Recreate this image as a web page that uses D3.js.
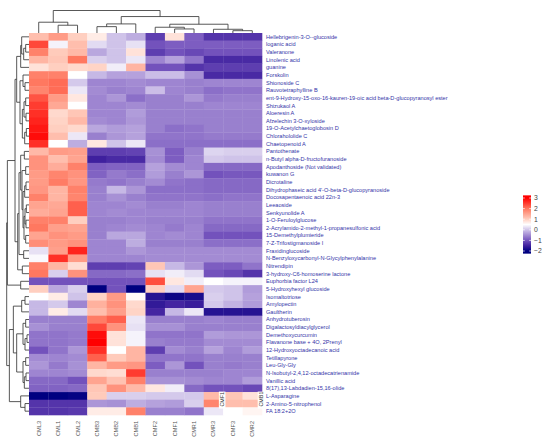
<!DOCTYPE html>
<html><head><meta charset="utf-8">
<script src="https://cdn.jsdelivr.net/npm/d3@7"></script>
<style>
html,body{margin:0;padding:0;background:#fff;}
svg{display:block;}
text{font-family:"Liberation Sans",Arial,sans-serif;}
</style></head>
<body><svg id="chart" width="550" height="444"></svg>
<script>
const columns = ["CML3","CML1","CML2","CMB3","CMB2","CMB1","CMF2","CMF1","CMR1","CMR3","CMF3","CMR2"];
const rowNames = [
"Hellebrigenin-3-O--glucoside","loganic acid","Valeranone","Linolenic acid","guanine","Forskolin","Shionoside C",
"Rauvotetraphylline B","ent-9-Hydroxy-15-oxo-16-kauren-19-oic acid beta-D-glucopyranosyl ester","Shizukaol A",
"Aloeresin A","Afzelechin 3-O-xyloside","19-O-Acetylchaetoglobosin D","Chlorahololide C","Chaetopenoid A",
"Pantothenate","n-Butyl alpha-D-fructofuranoside","Apodanthoside (Not validated)","kuwanon G","Dicrotaline",
"Dihydrophaseic acid 4'-O-beta-D-glucopyranoside","Docosapentaenoic acid 22n-3","Leeaoside","Senkyunolide A",
"1-O-Feruloylglucose","2-Acrylamido-2-methyl-1-propanesulfonic acid","15-Demethylplumieride","7-Z-Trifostigmanoside I",
"Fraxidinglucoside","N-Benzyloxycarbonyl-N-Glycylphenylalanine","Nitrendipin","3-hydroxy-C6-homoserine lactone",
"Euphorbia factor L24","5-Hydroxyhexyl glucoside","Isomaltotriose","Amylopectin","Gaultherin","Anhydrotuberosin",
"Digalactosyldiacylglycerol","Demethoxycurcumin","Flavanone base + 4O, 2Prenyl","12-Hydroxyoctadecanoic acid",
"Tetillapyrone","Leu-Gly-Gly","N-Isobutyl-2,4,12-octadecatrienamide","Vanillic acid","8(17),13-Labdadien-15,16-olide",
"L-Asparagine","2-Amino-5-nitrophenol","FA 18:2+2O"];
const values = [
[1.2,1.6,1.0,0.7,0.0,-0.2,-1.2,0.8,-0.9,-1.3,-1.3,-1.3],
[2.4,0.4,1.2,0.2,0.0,0.25,-1.0,-0.9,-0.9,-0.9,-0.9,-0.9],
[1.9,1.05,1.25,-0.25,0.0,0.8,-1.2,-1.0,-1.1,-1.0,-1.0,-1.0],
[1.3,1.1,2.0,0.1,0.0,0.3,-0.55,-0.3,-0.7,-1.4,-1.4,-1.4],
[0.8,1.0,0.9,0.95,0.35,1.3,-1.0,-1.0,-1.3,-1.2,-1.2,-1.2],
[1.9,1.9,0.5,-0.1,-0.3,-0.3,-0.05,-0.05,-0.45,-1.4,-1.4,-1.4],
[2.0,2.1,0.05,-0.55,-0.55,-0.5,-0.55,-0.55,-0.6,-0.55,-0.55,-0.55],
[1.85,2.1,0.3,-0.5,-0.6,-0.55,-0.05,-0.55,-0.6,-0.75,-0.7,-0.7],
[2.3,1.6,0.75,-0.55,-0.4,-0.75,-0.6,-0.6,-0.4,-0.65,-0.6,-0.6],
[2.5,1.45,0.5,-0.55,-0.55,-0.5,-0.6,-0.6,-0.6,-0.55,-0.55,-0.55],
[2.6,0.9,1.1,-0.55,-0.55,-0.35,-0.6,-0.6,-0.6,-0.6,-0.6,-0.6],
[2.7,0.95,1.25,-0.5,-0.55,-0.4,-0.6,-0.6,-0.6,-0.6,-0.6,-0.6],
[2.8,1.0,0.9,-0.25,-0.35,-0.3,-0.6,-0.75,-0.7,-0.6,-0.6,-0.6],
[2.9,1.2,0.3,-0.6,-0.4,-0.3,-0.7,-0.7,-0.7,-0.65,-0.65,-0.65],
[2.6,0.5,-0.2,0.75,0.0,0.3,-0.75,-0.75,-0.75,-0.75,-0.75,-0.75],
[1.25,1.6,1.55,-1.2,-1.2,-1.15,-0.45,-0.9,-0.6,0.15,0.1,0.1],
[1.7,1.2,1.5,-1.5,-1.4,-1.4,-0.5,-0.9,-0.55,0.05,0.0,0.0],
[1.7,1.4,1.9,-0.9,-0.85,-0.85,-0.3,-0.5,-0.55,-0.8,-0.8,-0.8],
[1.6,1.85,1.7,-0.85,-0.65,-0.75,-0.35,-0.6,-0.4,-1.0,-0.95,-0.95],
[1.6,1.95,1.65,-0.65,-0.7,-0.6,-0.5,-0.7,-0.75,-0.8,-0.8,-0.8],
[1.65,1.3,1.9,-0.6,-0.1,-0.4,-0.75,-0.75,-0.75,-0.8,-0.8,-0.8],
[1.9,1.3,1.85,-0.6,-0.45,-0.6,-0.7,-0.7,-0.7,-0.75,-0.7,-0.7],
[1.5,1.45,2.2,-0.55,-0.55,-0.5,-0.6,-0.6,-0.55,-0.6,-0.6,-0.6],
[1.4,1.5,2.2,-0.55,-0.5,-0.55,-0.55,-0.55,-0.55,-0.6,-0.6,-0.6],
[1.9,1.9,1.0,-0.6,-0.6,-0.55,-0.6,-0.6,-0.6,-0.7,-0.7,-0.7],
[2.0,1.55,1.5,-0.6,-0.55,-0.5,-0.55,-0.65,-0.55,-0.8,-0.8,-0.8],
[1.5,1.7,1.6,-0.6,-0.25,-0.25,-0.55,-0.5,-0.55,-1.0,-1.0,-1.0],
[1.75,1.6,1.7,-0.55,-0.55,-0.2,-0.6,-0.6,-0.6,-0.75,-0.75,-0.75],
[0.25,1.55,2.7,-0.55,-0.55,-0.4,-0.5,-0.5,-0.5,-0.5,-0.5,-0.5],
[0.45,2.6,1.6,-0.55,-0.55,-0.55,-0.5,-0.5,-0.5,-0.5,-0.5,-0.5],
[1.9,1.3,0.85,-1.2,-1.2,-1.15,1.1,-0.1,-0.4,-0.9,-0.9,-0.7],
[2.0,0.1,1.7,-0.8,-0.8,-0.75,0.25,0.35,0.2,-1.0,-1.1,-1.3],
[-1.0,-1.0,-1.0,-1.0,-1.0,-1.0,2.35,0.75,0.35,0.5,0.4,0.4],
[1.0,-0.25,0.1,-2.0,-1.0,-2.0,1.0,0.2,1.5,0.05,0.0,-0.35],
[0.5,0.7,0.0,0.95,1.6,0.55,-1.7,-1.9,-1.8,0.1,0.0,-0.3],
[-0.1,0.05,-0.55,1.35,1.7,0.9,-1.6,-1.45,-1.55,0.05,-0.15,-0.35],
[-0.1,0.7,0.2,1.2,1.55,0.95,-1.45,-0.1,0.3,-1.7,-1.7,-1.7],
[-0.6,-0.6,-0.6,1.95,2.2,0.3,-0.6,-0.6,-0.6,-0.55,-0.6,-0.6],
[-0.45,-0.6,-0.6,2.4,1.7,0.25,-0.45,-0.45,-0.6,-0.6,-0.6,-0.6],
[-0.7,-0.7,-0.65,2.9,0.8,0.4,-0.7,-0.7,-0.7,-0.35,-0.4,-0.4],
[-0.7,-0.7,-0.65,3.0,0.8,0.4,-0.6,-0.65,-0.65,-0.5,-0.5,-0.5],
[-1.0,-0.7,-0.4,2.6,0.5,1.3,-1.2,-0.5,-0.6,-0.3,-0.55,-0.35],
[-0.5,-0.55,-0.5,2.2,1.05,1.3,-0.7,-0.7,-0.7,-0.6,-0.6,-0.6],
[-0.4,-0.65,-0.45,1.3,1.6,1.65,-0.9,-0.4,-1.0,-0.6,-0.65,-0.6],
[-0.55,-0.55,-0.5,0.9,0.85,2.5,-0.6,-0.6,-0.6,-0.6,-0.55,-0.55],
[-0.8,-0.8,-1.0,1.5,1.15,1.9,-0.45,-0.45,-0.5,-0.55,-0.55,-0.35],
[-0.85,-0.85,-0.8,1.1,1.7,1.25,0.75,0.35,-0.8,-1.0,-1.0,-1.1],
[-2.0,-2.0,-1.95,1.05,0.1,0.1,0.05,0.05,0.05,1.25,1.1,0.8],
[-1.3,-1.3,-1.3,-0.4,-0.45,-0.2,-0.3,-0.35,0.1,1.85,1.2,1.2],
[-1.3,-1.3,-1.25,0.7,0.7,1.9,-0.6,-0.6,-0.7,0.3,0.5,0.6]
];
// dendrograms: [mergeHeight, left, right]; leaves are indices
const colTree = [22.3,[10.7,0,[7.7,1,2]],[16.3,[9,[6.3,3,4],5],[8.7,[5.7,6,[4,7,8]],[3.7,9,[2.3,10,11]]]]];
const rowTree = [67,
  [65,
    [42,
      [37,
        [25,[22,0,[16,[10,1,2],3]],4],
        [27,[18,5,[12,6,7]],[20,[15,[10,8,9],[9,10,11]],[13,[8,12,13],14]]]
      ],
      [34,
        [30,
          [25,[14,15,16],[21,[10,17,18],[18,[13,[9,19,20],21],[15,[12,[8,22,23],[9,24,25]],[10,26,27]]]]],
          [16,28,29]
        ],
        [20,30,31]
      ]
    ],
    [25,32,33]
  ],
  [59,
    [47,
      [22,[12,34,35],36],
      [37,[18,[10,37,38],[12,[6,39,40],41]],[18,[10,42,43],[14,[9,44,45],46]]]
    ],
    [25,47,[12,48,49]]
  ]
];
const legendTicks = [3,2,1,0,-1,-2];
const extraLabels = [{text:"CMF1", col:"CMR3"},{text:"CMB1", col:"CMR2"}];

const svg = d3.select("#chart");
const X0 = 29, X1 = 262, Y0 = 33, Y1 = 415;
const x = d3.scaleBand().domain(d3.range(columns.length)).range([X0, X1]);
const y = d3.scaleBand().domain(d3.range(rowNames.length)).range([Y0, Y1]);
const color = d3.scaleLinear()
  .domain([-2,-1.5,-1,-0.5,0,0.5,1,2,3])
  .range(["#000080","#3f209e","#7352bc","#a38bd3","#cfc3e9","#ffffff","#ffcfc0","#ff7860","#ff0000"])
  .clamp(true);

// heatmap cells
const cells = [];
values.forEach((row,i)=>row.forEach((v,j)=>cells.push({i,j,v})));
svg.append("g").selectAll("rect").data(cells).join("rect")
  .attr("x",d=>x(d.j)).attr("y",d=>y(d.i))
  .attr("width",x.bandwidth()+0.3).attr("height",y.bandwidth()+0.3)
  .attr("fill",d=>color(d.v));

// dendrogram helper
function dendro(tree, posOf, hScale, horizontal){
  const segs=[];
  function rec(n){
    if(typeof n==="number") return {p:posOf(n), h:0};
    const a=rec(n[1]), b=rec(n[2]), h=n[0];
    segs.push([a.p,a.h,a.p,h],[a.p,h,b.p,h],[b.p,h,b.p,b.h]);
    return {p:(a.p+b.p)/2, h};
  }
  rec(tree);
  return segs.map(s=> horizontal
    ? [[hScale(s[1]),s[0]],[hScale(s[3]),s[2]]]
    : [[s[0],hScale(s[1])],[s[2],hScale(s[3])]]);
}
const line = d3.line();
const colH = d3.scaleLinear().domain([0,22.3]).range([Y0,10.5]);
const rowH = d3.scaleLinear().domain([0,67]).range([X0,6.7]);
svg.append("g").selectAll("path").data(dendro(colTree, j=>x(j)+x.bandwidth()/2, colH, false)).join("path")
  .attr("d",line).attr("stroke","#3a3a3a").attr("stroke-width",0.85).attr("fill","none");
svg.append("g").selectAll("path").data(dendro(rowTree, i=>y(i)+y.bandwidth()/2, rowH, true)).join("path")
  .attr("d",line).attr("stroke","#3a3a3a").attr("stroke-width",0.85).attr("fill","none");

// row labels
svg.append("g").selectAll("text").data(rowNames).join("text")
  .attr("x",X1+4).attr("y",(d,i)=>y(i)+y.bandwidth()/2).attr("dy","0.35em")
  .attr("font-size",5.6).attr("fill","#3434a8").text(d=>d);

// column labels
svg.append("g").selectAll("text").data(columns).join("text")
  .attr("transform",(d,j)=>`translate(${x(j)+x.bandwidth()/2},${Y1+6}) rotate(-90)`)
  .attr("dy","0.35em").attr("text-anchor","end")
  .attr("font-size",5.6).attr("fill","#555").text(d=>d);

// stray rotated labels inside heatmap
const ex = svg.append("g").selectAll("g").data(extraLabels).join("g")
  .attr("transform",d=>`translate(${x(columns.indexOf(d.col))+x.bandwidth()-1},${y(48)+y.bandwidth()*0.9}) rotate(-90)`);
ex.append("rect").attr("x",-2).attr("y",-3.3).attr("width",17).attr("height",6.6).attr("fill","#fff");
ex.append("text").attr("x",0).attr("dy","0.35em").attr("font-size",5.4).attr("fill","#333").text(d=>d.text);

// legend
const LX = 523, LW = 8;
const ly = d3.scaleLinear().domain([-2,3]).range([251,198]);
const grad = svg.append("defs").append("linearGradient").attr("id","lg")
  .attr("x1",0).attr("x2",0).attr("y1",1).attr("y2",0);
d3.range(-2.25,3.26,0.25).forEach(v=>{
  grad.append("stop").attr("offset",(v+2.25)/5.5).attr("stop-color",color(v));
});
svg.append("rect").attr("x",LX).attr("y",ly(3.25)).attr("width",LW).attr("height",ly(-2.25)-ly(3.25)).attr("fill","url(#lg)");
const lt = svg.append("g").selectAll("g").data(legendTicks).join("g");
lt.append("line").attr("x1",LX).attr("x2",LX+1.8).attr("y1",d=>ly(d)).attr("y2",d=>ly(d)).attr("stroke","#fff").attr("stroke-width",0.7);
lt.append("line").attr("x1",LX+LW-1.8).attr("x2",LX+LW).attr("y1",d=>ly(d)).attr("y2",d=>ly(d)).attr("stroke","#fff").attr("stroke-width",0.7);
lt.append("text").attr("x",LX+LW+3).attr("y",d=>ly(d)).attr("dy","0.35em")
  .attr("font-size",6.8).attr("fill","#444").text(d=>d<0?"\u2212"+Math.abs(d):d);
</script></body></html>
